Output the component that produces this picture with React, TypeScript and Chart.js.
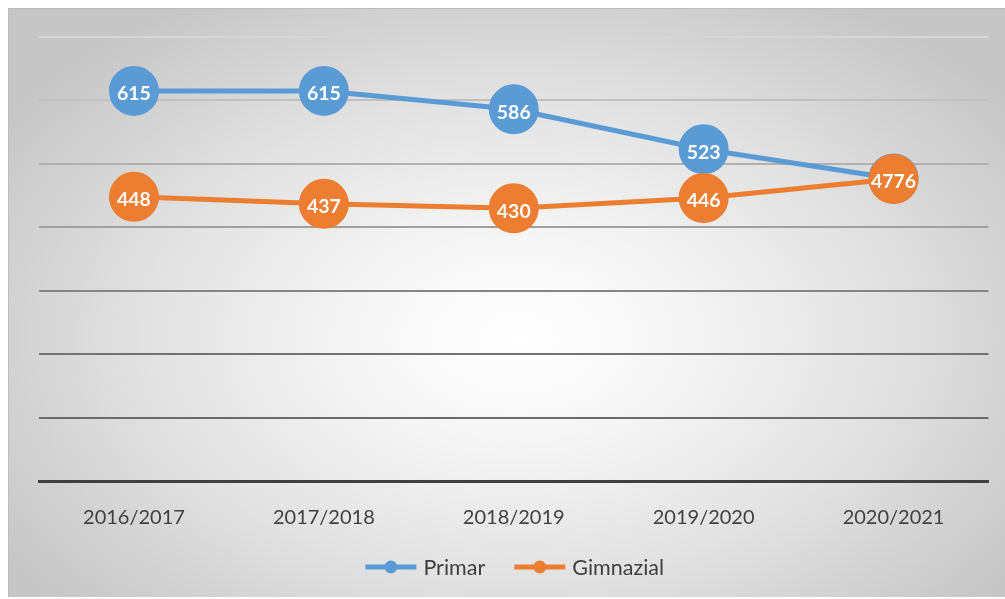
import React, { useEffect, useRef } from "react";
import { Chart, registerables } from "chart.js";

Chart.register(...registerables);

const categories = ["2016/2017", "2017/2018", "2018/2019", "2019/2020", "2020/2021"];
const primar = [615, 615, 586, 523, 477];
const gimnazial = [448, 437, 430, 446, 476];
const seriesNames = ["Primar", "Gimnazial"];
const seriesColors = ["#5B9BD5", "#ED7D31"];
const yMin = 0;
const yMax = 700;
const yStep = 100;
const gridColors: Record<number, string> = {
  700: "#d6d6d6",
  600: "#c0c0c0",
  500: "#b0b0b0",
  400: "#a0a0a0",
  300: "#858585",
  200: "#727272",
  100: "#6a6a6a",
  0: "rgba(0,0,0,0)",
};

const FONT = "Lato, 'Open Sans', sans-serif";

const labelPlugin = {
  id: "pointValueLabels",
  afterDatasetsDraw(chart: any) {
    const ctx = chart.ctx;
    ctx.save();
    ctx.font = `bold 19.5px ${FONT}`;
    ctx.fillStyle = "#ffffff";
    ctx.textAlign = "center";
    ctx.textBaseline = "middle";
    const n = chart.data.labels.length;
    const metas = chart.data.datasets.map((_: any, i: number) => chart.getDatasetMeta(i));
    for (let j = 0; j < n; j++) {
      const groups: { x: number; y: number; texts: string[] }[] = [];
      metas.forEach((m: any, i: number) => {
        const el = m.data[j];
        const text = String(chart.data.datasets[i].data[j]);
        const g = groups.find((g) => Math.abs(g.x - el.x) < 12 && Math.abs(g.y - el.y) < 12);
        if (g) {
          g.texts.push(text);
          g.y = el.y;
        } else groups.push({ x: el.x, y: el.y, texts: [text] });
      });
      groups.forEach((g) => {
        let text = g.texts[0];
        for (let k = 1; k < g.texts.length; k++) {
          const t = g.texts[k];
          let p = 0;
          while (p < text.length && p < t.length && text[p] === t[p]) p++;
          text = text + t.slice(p);
        }
        ctx.fillText(text, g.x, g.y + 3);
      });
    }
    ctx.restore();
  },
};

const legendPlugin = {
  id: "lineLegend",
  afterDraw(chart: any) {
    const ctx = chart.ctx;
    const area = chart.chartArea;
    ctx.save();
    ctx.font = `21.5px ${FONT}`;
    ctx.textBaseline = "middle";
    ctx.textAlign = "left";
    const sample = 51;
    const gap = 7;
    const itemGap = 29;
    const items = chart.data.datasets.map((d: any) => ({
      label: d.label,
      color: d.borderColor,
      w: sample + gap + ctx.measureText(d.label).width,
    }));
    const total = items.reduce((s: number, it: any) => s + it.w, 0) + itemGap * (items.length - 1);
    let x = (area.left + area.right) / 2 - total / 2 + 1;
    const y = 559;
    items.forEach((it: any) => {
      ctx.strokeStyle = it.color;
      ctx.lineWidth = 5;
      ctx.beginPath();
      ctx.moveTo(x, y);
      ctx.lineTo(x + sample, y);
      ctx.stroke();
      ctx.fillStyle = it.color;
      ctx.beginPath();
      ctx.arc(x + sample / 2, y, 6.5, 0, Math.PI * 2);
      ctx.fill();
      ctx.fillStyle = "#404040";
      ctx.fillText(it.label, x + sample + gap, y + 1);
      x += it.w + itemGap;
    });
    ctx.restore();
  },
};

export default function App() {
  const ref = useRef<HTMLCanvasElement | null>(null);
  useEffect(() => {
    if (!ref.current) return;
    const chart = new Chart(ref.current, {
      type: "line",
      data: {
        labels: categories,
        datasets: [
          {
            label: seriesNames[0],
            data: primar,
            borderColor: seriesColors[0],
            backgroundColor: seriesColors[0],
            pointBackgroundColor: seriesColors[0],
            pointBorderColor: seriesColors[0],
            borderWidth: 5,
            pointRadius: 22.5,
            pointHoverRadius: 22.5,
            tension: 0,
            order: 1,
          },
          {
            label: seriesNames[1],
            data: gimnazial,
            borderColor: seriesColors[1],
            backgroundColor: seriesColors[1],
            pointBackgroundColor: seriesColors[1],
            pointBorderColor: seriesColors[1],
            borderWidth: 5,
            pointRadius: 22.5,
            pointHoverRadius: 22.5,
            tension: 0,
            order: 0,
          },
        ],
      },
      options: {
        responsive: false,
        animation: false,
        events: [],
        layout: { padding: { left: 31, right: 7, top: 29, bottom: 42 } },
        plugins: {
          legend: { display: false },
          tooltip: { enabled: false },
        },
        scales: {
          x: {
            offset: true,
            grid: { display: false, drawTicks: false },
            border: { display: true, color: "#404040", width: 3 },
            ticks: {
              color: "#404040",
              font: { family: FONT, size: 20 },
              padding: 25,
              maxRotation: 0,
            },
          },
          y: {
            min: yMin,
            max: yMax,
            ticks: { stepSize: yStep, display: false },
            border: { display: false },
            grid: {
              drawTicks: false,
              lineWidth: 2,
              color: (c: any) => gridColors[c.tick?.value] ?? "#999",
            },
          },
        },
      },
      plugins: [labelPlugin, legendPlugin],
    });
    return () => chart.destroy();
  }, []);

  return (
    <div
      style={{
        position: "absolute",
        left: 8,
        top: 8,
        width: 997,
        height: 589,
        boxSizing: "border-box",
        borderTop: "1px solid #bdbdbd",
        borderLeft: "1px solid #bdbdbd",
        background:
          "radial-gradient(ellipse 62% 68% at 51% 56%, #ffffff 0%, #f6f6f6 25%, #e2e2e2 60%, #d0d0d0 85%, #c6c6c6 100%)",
        overflow: "hidden",
      }}
    >
      <canvas ref={ref} width={1008} height={589} style={{ display: "block", position: "absolute", left: -1, top: -1 }} />
    </div>
  );
}
